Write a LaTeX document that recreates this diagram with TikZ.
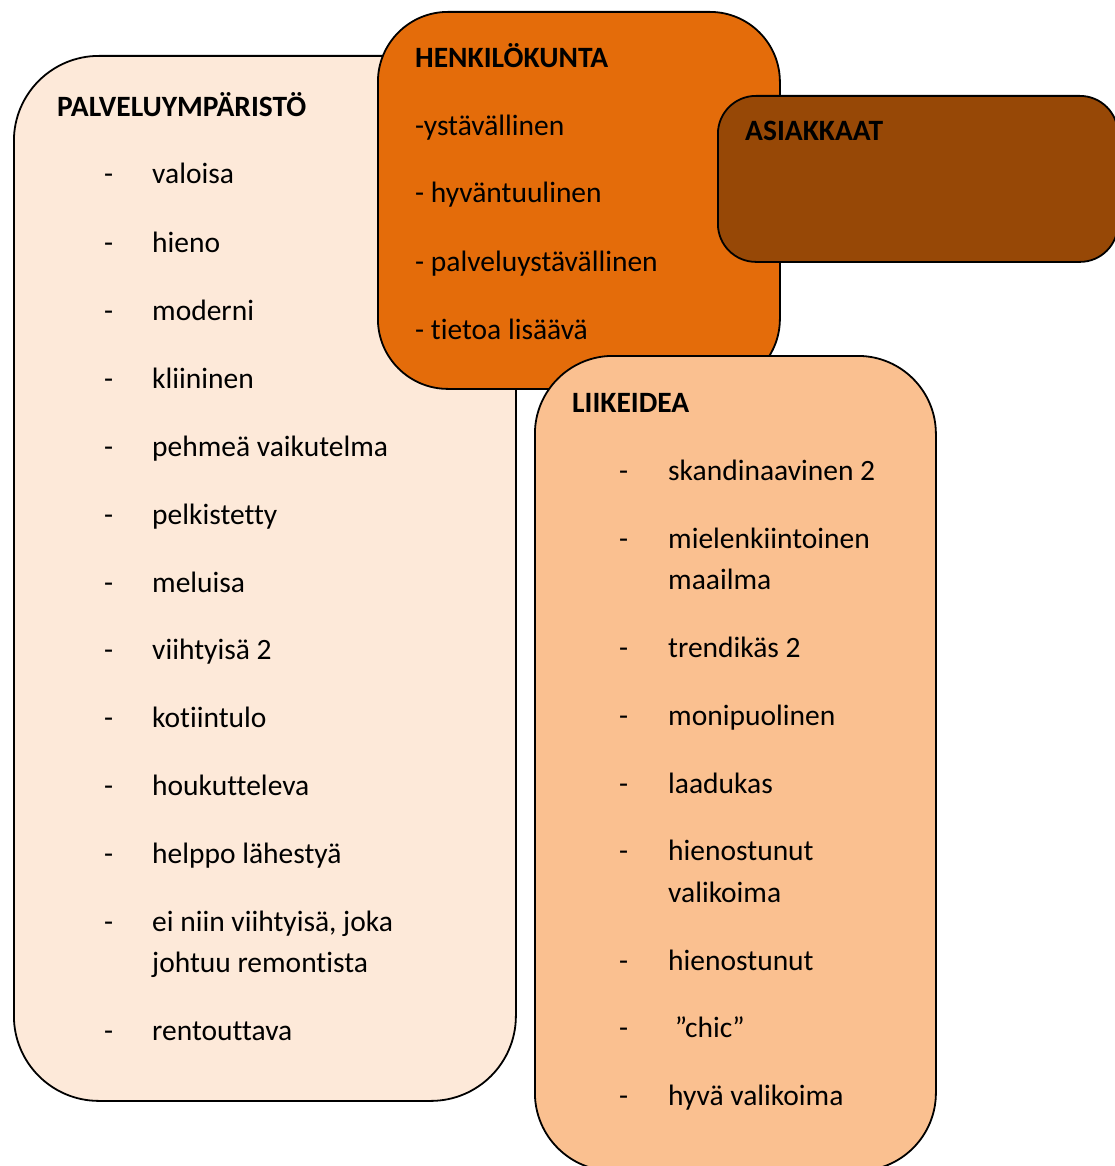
\documentclass[tikz,border=0pt]{standalone}
\usepackage{fontspec}
\setmainfont{Carlito}[Ligatures={NoCommon,NoContextual}]
\definecolor{envfill}{HTML}{FDE9D9}
\definecolor{stafffill}{HTML}{E46C0A}
\definecolor{custfill}{HTML}{974806}
\definecolor{ideafill}{HTML}{FAC090}
\begin{document}
\begin{tikzpicture}[x=1pt,y=1pt,
  panel/.style={draw=black, line width=1.8pt, rectangle, anchor=north west, inner sep=0pt},
  txt/.style={anchor=base west, inner sep=0pt, font=\fontsize{29.5}{35}\selectfont, text=black},
  head/.style={txt, font=\fontsize{29.5}{35}\selectfont\bfseries}]
\useasboundingbox (0,0) rectangle (1115,-1166);
\clip (0,0) rectangle (1115,-1166);

% panels, back to front
\node[panel, fill=envfill, rounded corners=85pt, minimum width=502pt, minimum height=1045pt] (env) at (13,-55) {};
\node[panel, fill=stafffill, rounded corners=70pt, minimum width=402pt, minimum height=377pt] (staff) at (377,-11) {};
\node[panel, fill=custfill, rounded corners=38pt, minimum width=400pt, minimum height=166pt] (cust) at (717,-95) {};
\node[panel, fill=ideafill, rounded corners=78pt, minimum width=401pt, minimum height=815pt] (idea) at (534,-355) {};

% service environment
\node[head] (envhead) at (57,-117) {PALVELUYMPÄRISTÖ};
\foreach \y/\t [count=\i] in {184/valoisa, 252/hieno, 320/moderni, 388/kliininen,
    456/pehmeä vaikutelma, 524/pelkistetty, 592/meluisa, 659/viihtyisä 2,
    727/kotiintulo, 795/houkutteleva, 863/helppo lähestyä,
    931/{ei niin viihtyisä, joka}, 1040/rentouttava}{
  \node[txt] (envdash\i) at (104,-\y) {-};
  \node[txt] (envitem\i) at (152,-\y) {\t};
}
\node[txt] (envitemb) at (152,-972) {johtuu remontista};

% staff
\node[head] (staffhead) at (415,-68) {HENKILÖKUNTA};
\node[txt] (staff1) at (415,-136) {-ystävällinen};
\node[txt] (staff2) at (415,-203) {- hyväntuulinen};
\node[txt] (staff3) at (415,-271) {- palveluystävällinen};
\node[txt] (staff4) at (415,-339) {- tietoa lisäävä};

% customers
\node[head] (custhead) at (745,-141) {ASIAKKAAT};

% business idea
\node[head] (ideahead) at (572,-412) {LIIKEIDEA};
\foreach \y/\t [count=\i] in {480/skandinaavinen 2, 548/mielenkiintoinen, 657/trendikäs 2,
    725/monipuolinen, 793/laadukas, 860/hienostunut, 970/hienostunut,
    1037/{\ ”chic”}, 1105/hyvä valikoima}{
  \node[txt] (ideadash\i) at (619,-\y) {-};
  \node[txt] (ideaitem\i) at (668,-\y) {\t};
}
\node[txt] (ideaitemb) at (668,-589) {maailma};
\node[txt] (ideaitemc) at (668,-902) {valikoima};
\end{tikzpicture}
\end{document}
